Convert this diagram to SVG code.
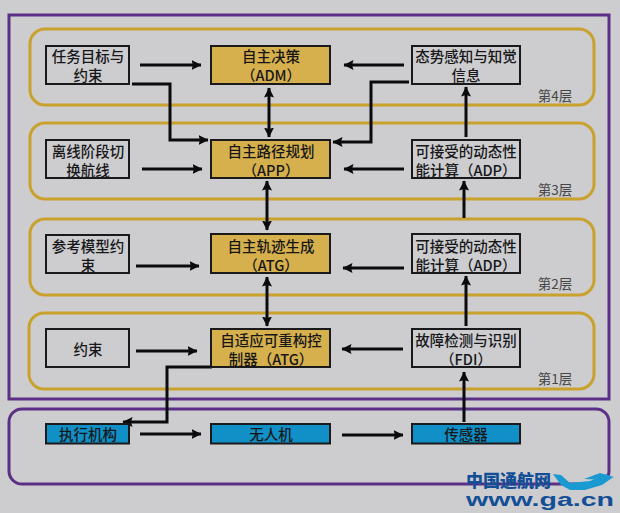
<svg xmlns="http://www.w3.org/2000/svg" width="620" height="513" viewBox="0 0 620 513">
<style>
text{font-family:"Noto Sans CJK SC","Liberation Sans",sans-serif;font-size:14.5px;font-weight:500;fill:#17171a;text-anchor:middle}
.band{fill:none;stroke:#c9a22e;stroke-width:3}
.w{fill:#cdcdcf;stroke:#1a1a1c;stroke-width:2}
.g{fill:#d6b04c;stroke:#1a1a1c;stroke-width:2}
.b{fill:#1090c6;stroke:#1a1a1c;stroke-width:2}
.c{fill:none;stroke:#0b0b0d;stroke-width:3}
.lay{fill:#454545;font-size:13.5px;font-weight:400}
.p{fill:none;stroke:#5b2f86;stroke-width:3}
</style>
<defs>
<marker id="a" markerUnits="userSpaceOnUse" markerWidth="11" markerHeight="11" refX="9.500" refY="5.500" orient="auto-start-reverse"><path d="M0 .5L10 5.500L0 10.500L1.500 5.500Z" fill="#0b0b0d"/></marker>
</defs>
<rect width="620" height="513" fill="#cdcdcf"/>
<g id="frames">
<rect class="p" x="9" y="15" width="600" height="384"/>
<rect class="p" x="9" y="409" width="600" height="75" rx="13"/>
<rect class="band" x="30" y="29" width="564" height="76" rx="15"/>
<rect class="band" x="30" y="123" width="564" height="76" rx="15"/>
<rect class="band" x="30" y="219" width="564" height="76" rx="15"/>
<rect class="band" x="29" y="313" width="565" height="76" rx="15"/>
</g>
<g id="connectors">
<path class="c" marker-end="url(#a)" d="M140 65H201"/>
<path class="c" marker-end="url(#a)" d="M404 65H344"/>
<path class="c" marker-end="url(#a)" d="M132 84H170V140H208"/>
<path class="c" marker-end="url(#a)" d="M409 82H371V142H333"/>
<path class="c" marker-end="url(#a)" marker-start="url(#a)" d="M269 88V137"/>
<path class="c" marker-end="url(#a)" d="M142 169H202"/>
<path class="c" marker-end="url(#a)" d="M404 169H344"/>
<path class="c" marker-end="url(#a)" d="M466 137V87"/>
<path class="c" marker-end="url(#a)" marker-start="url(#a)" d="M267 181V230"/>
<path class="c" marker-end="url(#a)" d="M464 218V181"/>
<path class="c" marker-end="url(#a)" d="M136 266H199"/>
<path class="c" marker-end="url(#a)" d="M404 268H343"/>
<path class="c" marker-end="url(#a)" marker-start="url(#a)" d="M267 277V326"/>
<path class="c" marker-end="url(#a)" d="M466 326V276"/>
<path class="c" marker-end="url(#a)" d="M136 351H197"/>
<path class="c" marker-end="url(#a)" d="M403 349H342"/>
<path class="c" marker-end="url(#a)" d="M212 367H167V422H123"/>
<path class="c" marker-end="url(#a)" d="M464 422V372"/>
<path class="c" marker-end="url(#a)" d="M140 434H201"/>
<path class="c" marker-end="url(#a)" d="M342 435H403"/>
</g>
<g id="n1"><rect class="w" x="46" y="46" width="83" height="38"/><text x="88" y="62">任务目标与</text><text x="88" y="81">约束</text></g>
<g id="n2"><rect class="g" x="211" y="46" width="119" height="38"/><text x="271" y="62">自主决策</text><text x="271" y="81">（ADM）</text></g>
<g id="n3"><rect class="w" x="412" y="46" width="108" height="38"/><text x="466" y="62">态势感知与知觉</text><text x="466" y="81">信息</text></g>
<g id="n4"><rect class="w" x="46" y="140" width="83" height="38"/><text x="88" y="157">离线阶段切</text><text x="88" y="176">换航线</text></g>
<g id="n5"><rect class="g" x="211" y="140" width="119" height="38"/><text x="271" y="157">自主路径规划</text><text x="271" y="176">（APP）</text></g>
<g id="n6"><rect class="w" x="412" y="140" width="108" height="38"/><text x="466" y="157">可接受的动态性</text><text x="466" y="176">能计算（ADP）</text></g>
<g id="n7"><rect class="w" x="46" y="235" width="83" height="38"/><text x="88" y="252">参考模型约</text><text x="88" y="271">束</text></g>
<g id="n8"><rect class="g" x="211" y="234" width="119" height="39"/><text x="271" y="252">自主轨迹生成</text><text x="271" y="271">（ATG）</text></g>
<g id="n9"><rect class="w" x="412" y="234" width="108" height="39"/><text x="466" y="252">可接受的动态性</text><text x="466" y="271">能计算（ADP）</text></g>
<g id="n10"><rect class="w" x="46" y="329" width="83" height="38"/><text x="88" y="355">约束</text></g>
<g id="n11"><rect class="g" x="211" y="329" width="119" height="38"/><text x="271" y="346">自适应可重构控</text><text x="271" y="365">制器（ATG）</text></g>
<g id="n12"><rect class="w" x="412" y="329" width="108" height="38"/><text x="466" y="346">故障检测与识别</text><text x="466" y="365">（FDI）</text></g>
<g id="n13"><rect class="b" x="46" y="424" width="83" height="19.500"/><text x="88" y="440">执行机构</text></g>
<g id="n14"><rect class="b" x="211" y="424" width="119" height="19.500"/><text x="271" y="440">无人机</text></g>
<g id="n15"><rect class="b" x="412" y="424" width="108" height="19.500"/><text x="466" y="440">传感器</text></g>
<g id="layers"><text class="lay" x="555" y="101">第4层</text><text class="lay" x="555" y="195">第3层</text><text class="lay" x="555" y="289">第2层</text><text class="lay" x="555" y="384">第1层</text></g>
<g id="mark">
<text x="508.500" y="487" textLength="85" lengthAdjust="spacingAndGlyphs" style="font-size:17px;font-weight:900;fill:#134f96">中国通航网</text>
<text x="540" y="506" textLength="148" lengthAdjust="spacingAndGlyphs" style="font-size:18px;font-weight:700;fill:#134f96;font-family:'Liberation Sans',sans-serif">www.ga.cn</text>
<path d="M553 474L561 475L570 483L590 481L606 474L612 478L602 485L585 490L570 490L561 485Z" fill="#1a9ad0"/>
<path d="M584 479L600 473L614 477L607 480Z" fill="#1a9ad0"/>
</g>
</svg>
